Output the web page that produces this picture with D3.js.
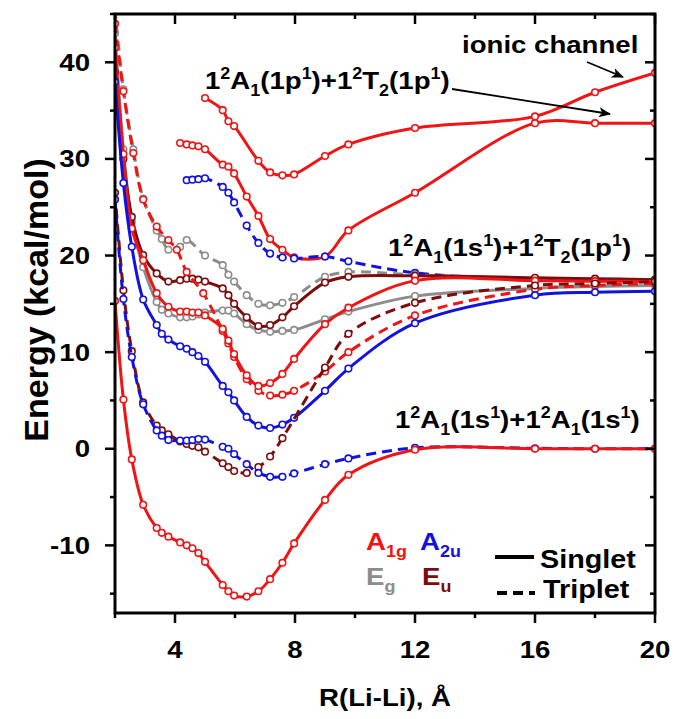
<!DOCTYPE html>
<html>
<head>
<meta charset="utf-8">
<script src="https://cdn.jsdelivr.net/npm/d3@7"></script>
<style>
  body { margin: 0; background: #fff; }
  text { font-family: "Liberation Sans", Arial, sans-serif; font-weight: bold; }
</style>
</head>
<body>
<svg id="chart" width="677" height="719"></svg>
<script>
// Axis ticks
const xMajorTicks = [4, 8, 12, 16, 20];
const xMinorTicks = [2, 6, 10, 14, 18];
const yMajorTicks = [-10, 0, 10, 20, 30, 40];
const yMinorTicks = [-15, -5, 5, 15, 25, 35, 45];

// Potential energy curves: [R(Li-Li) in Å, energy in kcal/mol]
const a1gSingletGround = [[2.0,15.3],[2.28,5.1],[2.56,-1.1],[2.94,-5.8],[3.39,-8.2],[3.56,-8.7],[3.78,-9.1],[4.17,-9.7],[4.39,-10.0],[4.58,-10.3],[4.78,-10.8],[5.0,-11.7],[5.59,-14.1],[5.78,-14.75],[5.97,-15.2],[6.39,-15.3],[6.78,-14.75],[7.17,-13.5],[7.58,-11.8],[7.97,-9.8],[9.0,-5.3],[9.78,-2.7],[12,-0.1],[16,0],[18,0],[20,0]];
const a2uTripletLow = [[2.0,25.8],[2.28,15.5],[2.56,9.5],[2.94,4.6],[3.39,1.9],[3.56,1.35],[3.78,0.9],[4.17,0.85],[4.39,0.85],[4.58,0.9],[4.78,1.0],[5.0,0.95],[5.59,0.2],[5.78,0.0],[5.97,-0.55],[6.39,-1.6],[6.78,-2.5],[7.17,-2.9],[7.58,-2.9],[7.97,-2.55],[9.0,-1.6],[9.78,-1.0],[12,0.1],[16,0.05],[18,0],[20,0]];
const euTripletLow = [[2.0,26.5],[2.28,16.4],[2.56,10.1],[2.94,4.8],[3.39,2.4],[3.56,1.9],[3.78,1.5],[4.17,0.75],[4.39,0.5],[4.58,0.3],[4.78,0.15],[5.0,-0.3],[5.59,-1.5],[5.78,-1.9],[5.97,-2.3],[6.39,-2.5],[6.78,-1.9],[7.17,-0.8],[7.58,1.1],[9.0,8.4],[9.78,11.9],[12,15.1],[16,16.9],[18,17.1],[20,17.3]];
const a2uSinglet = [[2.0,38],[2.28,27.5],[2.56,20.9],[2.94,15.45],[3.39,12.8],[3.56,11.9],[3.78,11.3],[4.17,10.6],[4.39,10.35],[4.58,10.0],[4.78,9.6],[5.0,9.0],[5.59,6.5],[5.78,5.85],[5.97,5.0],[6.39,3.3],[6.78,2.4],[7.17,2.15],[7.58,2.5],[7.97,3.2],[9.0,6.0],[9.78,8.3],[12,13.0],[16,15.9],[18,16.2],[20,16.3]];
const a1gTriplet = [[2.0,44],[2.28,37],[2.61,30.6],[2.94,25.8],[3.39,23.0],[3.78,21.6],[4.06,20.6],[4.39,18.3],[4.94,16.1],[5.59,12.2],[5.78,10.9],[5.97,9.5],[6.39,7.2],[6.78,6.0],[7.17,5.5],[7.58,5.6],[7.97,6.0],[9.0,8.0],[9.78,10.0],[12,13.8],[16,16.5],[18,16.9],[20,17.1]];
const a1gSingletMid = [[2.0,41.5],[2.28,30.5],[2.56,22.8],[2.94,19.5],[3.39,16.1],[3.78,14.7],[4.17,14.2],[4.39,14.2],[4.58,14.1],[4.78,14.1],[5.0,13.8],[5.59,12.4],[5.78,11.2],[5.97,9.8],[6.39,7.6],[6.78,6.5],[7.17,6.8],[7.58,7.75],[7.97,9.3],[9.0,12.9],[9.78,14.6],[12,17.4],[16,17.4],[18,17.35],[20,17.3]];
const egSinglet = [[2.0,43],[2.28,31],[2.56,23.5],[2.94,18.8],[3.39,15.2],[3.56,14.4],[3.78,14.0],[4.17,13.6],[4.39,13.6],[4.58,13.7],[4.78,13.9],[5.0,14.1],[5.59,14.3],[5.78,14.3],[5.97,14.0],[6.39,12.9],[6.78,12.3],[7.17,12.1],[7.58,12.2],[7.97,12.3],[9.0,13.4],[9.78,14.2],[12,15.8],[16,16.6],[18,16.8],[20,16.9]];
const euSinglet = [[2.0,39],[2.28,30],[2.56,24],[2.94,20.05],[3.39,18.15],[3.78,17.3],[4.17,17.45],[4.39,17.6],[4.58,17.6],[4.78,17.5],[5.0,17.3],[5.59,16.6],[5.78,15.9],[5.97,15.0],[6.39,13.6],[6.78,12.7],[7.17,12.8],[7.58,13.6],[7.97,14.75],[9.0,17.2],[9.78,17.8],[12,17.9],[16,17.7],[18,17.6],[20,17.5]];
const egTriplet = [[2.0,45.5],[2.28,37.2],[2.61,31],[2.94,25.9],[3.39,22.6],[3.56,21.7],[3.78,20.6],[4.17,20.9],[4.39,21.6],[5.0,20.0],[5.59,19.0],[5.78,18.0],[5.97,17.3],[6.39,15.9],[6.78,15.0],[7.17,14.85],[7.58,15.1],[7.97,15.7],[9.0,17.8],[9.78,18.3],[12,18.0],[16,17.6],[18,17.5],[20,17.5]];
const a2uTripletUpper = [[4.39,27.8],[4.58,27.85],[4.78,27.9],[5.0,28.0],[5.59,27.1],[5.78,26.5],[5.97,25.5],[6.39,23.1],[6.78,21.3],[7.17,20.2],[7.58,19.8],[7.97,19.7],[9.0,19.9],[9.78,19.4],[12,18.2],[16,17.5],[18,17.4],[20,17.4]];
const a1gSinglet1p = [[4.17,31.65],[4.39,31.5],[4.58,31.4],[4.78,31.3],[5.0,31.0],[5.59,29.4],[5.78,29.2],[5.97,28.5],[6.39,26.1],[6.78,24.1],[7.17,21.7],[7.58,20.6],[7.97,19.8],[9.0,19.9],[9.78,22.6],[12,26.5],[16,33.7],[18,33.7],[20,33.7]];
const a1gSingletIonic = [[5.0,36.3],[5.59,35.05],[5.78,33.9],[5.97,33.4],[6.78,29.8],[7.17,28.6],[7.58,28.3],[7.97,28.4],[9.0,30.3],[9.78,31.5],[12,33.2],[16,34.4],[18,36.9],[20,38.9]];

const RED = "#f01414", BLUE = "#1212e0", GRAY = "#8c8c8c", DARK = "#7d0c0c";

const series = [
  { data: a1gSingletIonic, color: RED, dashed: false },
  { data: a1gSinglet1p, color: RED, dashed: false },
  { data: a2uTripletUpper, color: BLUE, dashed: true },
  { data: egTriplet, color: GRAY, dashed: true },
  { data: egSinglet, color: GRAY, dashed: false },
  { data: euSinglet, color: DARK, dashed: false },
  { data: a1gTriplet, color: RED, dashed: true },
  { data: a1gSingletMid, color: RED, dashed: false },
  { data: a2uSinglet, color: BLUE, dashed: false },
  { data: euTripletLow, color: DARK, dashed: true },
  { data: a2uTripletLow, color: BLUE, dashed: true },
  { data: a1gSingletGround, color: RED, dashed: false }
];

const svg = d3.select("#chart");
const plotL = 115, plotR = 655, plotT = 14, plotB = 613;
const x = d3.scaleLinear().domain([2, 20]).range([plotL, plotR]);
const y = d3.scaleLinear().domain([-17, 45]).range([plotB, plotT]);
const XS = 1.15; // horizontal text stretch

const defs = svg.append("defs");
defs.append("clipPath").attr("id", "plotClip")
  .append("rect").attr("x", plotL).attr("y", plotT).attr("width", plotR - plotL).attr("height", plotB - plotT);
defs.append("marker").attr("id", "arrowHead")
  .attr("viewBox", "0 0 12 10").attr("refX", 11).attr("refY", 5)
  .attr("markerWidth", 12).attr("markerHeight", 10).attr("markerUnits", "userSpaceOnUse")
  .attr("orient", "auto")
  .append("path").attr("d", "M0,0 L12,5 L0,10 L3,5 Z").attr("fill", "#000");

const plot = svg.append("g").attr("clip-path", "url(#plotClip)");
const line = d3.line().x(d => x(d[0])).y(d => y(d[1])).curve(d3.curveCatmullRom.alpha(0.5));

series.forEach(s => {
  plot.append("path").attr("d", line(s.data))
    .attr("fill", "none").attr("stroke", s.color).attr("stroke-width", 3)
    .attr("stroke-dasharray", s.dashed ? "10,6" : null);
  plot.append("g").selectAll("circle").data(s.data).join("circle")
    .attr("cx", d => x(d[0])).attr("cy", d => y(d[1])).attr("r", 3.3)
    .attr("fill", "#fff").attr("stroke", s.color).attr("stroke-width", 1.6);
});

// Frame
svg.append("rect").attr("x", plotL).attr("y", plotT).attr("width", plotR - plotL).attr("height", plotB - plotT)
  .attr("fill", "none").attr("stroke", "#000").attr("stroke-width", 3);

const ticks = svg.append("g").attr("stroke", "#000").attr("stroke-width", 2.5);
xMajorTicks.concat(xMinorTicks).forEach(t => {
  const len = xMajorTicks.includes(t) ? 10 : 5;
  ticks.append("line").attr("x1", x(t)).attr("x2", x(t)).attr("y1", plotB).attr("y2", plotB + len);
  ticks.append("line").attr("x1", x(t)).attr("x2", x(t)).attr("y1", plotT).attr("y2", plotT + len);
});
yMajorTicks.concat(yMinorTicks).forEach(t => {
  const len = yMajorTicks.includes(t) ? 10 : 5;
  ticks.append("line").attr("y1", y(t)).attr("y2", y(t)).attr("x1", plotL).attr("x2", plotL - len);
  ticks.append("line").attr("y1", y(t)).attr("y2", y(t)).attr("x1", plotR).attr("x2", plotR - len);
});

function label(px, py, parts, opts = {}) {
  const size = opts.size || 24;
  const t = svg.append("text")
    .attr("transform", `translate(${px},${py}) scale(${opts.rotate ? 1 : XS},1)` + (opts.rotate ? " rotate(-90)" : ""))
    .attr("font-size", size).attr("fill", opts.color || "#000")
    .attr("text-anchor", opts.anchor || "start");
  let cur = 0;
  parts.forEach(p => {
    const [str, kind] = Array.isArray(p) ? p : [p, "n"];
    const target = kind === "sup" ? -size * 0.4 : kind === "sub" ? size * 0.28 : 0;
    t.append("tspan").attr("dy", target - cur)
      .attr("font-size", kind === "n" ? size : size * 0.65).text(str);
    cur = target;
  });
  return t;
}

// Tick labels
xMajorTicks.forEach(t => label(x(t), 658, [String(t)], { anchor: "middle" }));
yMajorTicks.forEach(t => label(90, y(t) + 8.5, [String(t)], { anchor: "end" }));

// Axis titles
label(385, 706, ["R(Li-Li), Å"], { anchor: "middle" });
label(48, 300, ["Energy (kcal/mol)"], { anchor: "middle", rotate: true, size: 34 });

// Asymptote annotations
label(462, 53, ["ionic channel"]);
label(205, 89, ["1", ["2", "sup"], "A", ["1", "sub"], "(1p", ["1", "sup"], ")+1", ["2", "sup"], "T", ["2", "sub"], "(1p", ["1", "sup"], ")"]);
label(388, 256, ["1", ["2", "sup"], "A", ["1", "sub"], "(1s", ["1", "sup"], ")+1", ["2", "sup"], "T", ["2", "sub"], "(1p", ["1", "sup"], ")"]);
label(395, 428, ["1", ["2", "sup"], "A", ["1", "sub"], "(1s", ["1", "sup"], ")+1", ["2", "sup"], "A", ["1", "sub"], "(1s", ["1", "sup"], ")"]);

svg.append("line").attr("x1", 587).attr("y1", 62).attr("x2", 623).attr("y2", 77)
  .attr("stroke", "#000").attr("stroke-width", 1.8).attr("marker-end", "url(#arrowHead)");
svg.append("line").attr("x1", 452).attr("y1", 89).attr("x2", 610).attr("y2", 114)
  .attr("stroke", "#000").attr("stroke-width", 1.8).attr("marker-end", "url(#arrowHead)");

// Symmetry legend
label(366, 550, ["A", ["1g", "sub"]], { color: RED });
label(420, 550, ["A", ["2u", "sub"]], { color: BLUE });
label(366, 585, ["E", ["g", "sub"]], { color: GRAY });
label(422, 585, ["E", ["u", "sub"]], { color: DARK });

// Spin legend
svg.append("line").attr("x1", 495).attr("x2", 534).attr("y1", 557).attr("y2", 557)
  .attr("stroke", "#000").attr("stroke-width", 4);
label(540, 568, ["Singlet"], { size: 25 });
svg.append("line").attr("x1", 497).attr("x2", 535).attr("y1", 593).attr("y2", 593)
  .attr("stroke", "#000").attr("stroke-width", 4).attr("stroke-dasharray", "10,6");
label(543, 598, ["Triplet"], { size: 25 });
</script>
</body>
</html>
